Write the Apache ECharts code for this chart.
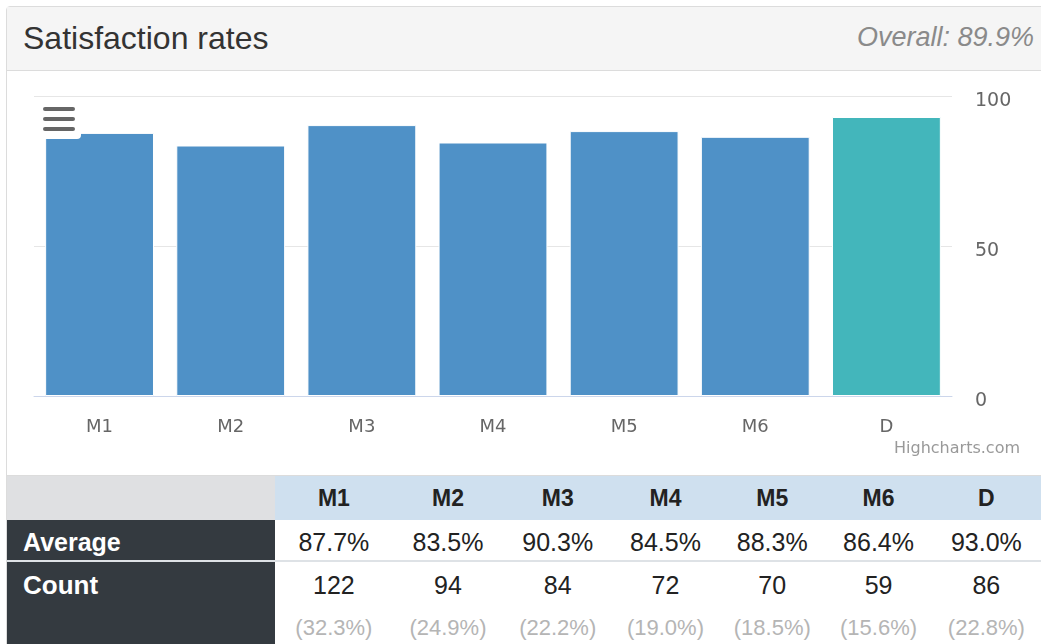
<!DOCTYPE html>
<html>
<head>
<meta charset="utf-8">
<script src="https://cdn.jsdelivr.net/npm/echarts@6/dist/echarts.min.js"></script>
<style>
  html, body { margin: 0; padding: 0; width: 1041px; height: 644px; overflow: hidden; background: #fff; }
  body { position: relative; font-family: "Liberation Sans", Arial, sans-serif; }
  .panel {
    position: absolute; left: 6px; top: 6px; width: 1100px; height: 700px;
    border: 1px solid #dcdcdc; border-radius: 4px; box-sizing: border-box;
  }
  .head {
    position: absolute; left: 0; top: 0; right: 0; height: 63px;
    background: #f5f5f5; border-bottom: 1px solid #dcdcdc;
  }
  .title {
    position: absolute; left: 16px; top: 13px; font-size: 32px; color: #333;
  }
  .overall {
    position: absolute; left: 760px; width: 267px; text-align: right; top: 15px;
    font-size: 27px; font-style: italic; color: #8a8a8a;
  }
  #chart { position: absolute; left: 0; top: 70px; width: 1041px; height: 405px; }
  table {
    position: absolute; left: 7px; top: 475px; border-collapse: collapse; table-layout: fixed;
    border-top: 1px solid #dcdcdc;
  }
  td, th { padding: 0; text-align: center; color: #222; }
  thead th { height: 44px; line-height: 44px; background: #cfe0ef; font-size: 23px; font-weight: bold; }
  thead th.blank { background: #dfe0e2; }
  tbody th {
    background: #343a40; color: #fff; text-align: left; padding-left: 16px;
    font-size: 26px; font-weight: bold; vertical-align: top;
  }
  .nudge { position: relative; top: 2px; }
  tr.avg td, tr.avg th { height: 40px; line-height: 40px; border-bottom: 2px solid #dee2e6; font-size: 25px; }
  tr.cnt td { vertical-align: top; font-size: 25px; line-height: 46px; }
  tr.cnt th { line-height: 46px; height: 82px; }
  .pct { display: block; color: #b5b5b5; font-size: 22px; line-height: 40px; }
</style>
</head>
<body>
<div class="panel">
  <div class="head">
    <div class="title">Satisfaction rates</div>
    <div class="overall">Overall: 89.9%</div>
  </div>
</div>
<div id="chart"></div>
<table id="tbl"></table>
<script>
const categories = ["M1", "M2", "M3", "M4", "M5", "M6", "D"];
const averages = [87.7, 83.5, 90.3, 84.5, 88.3, 86.4, 93.0];
const counts = [122, 94, 84, 72, 70, 59, 86];
const countShares = [32.3, 24.9, 22.2, 19.0, 18.5, 15.6, 22.8];
const yTicks = [0, 50, 100];
const overall = 89.9;

// table under the chart
const colWidths = [272, 118, 112, 109, 108, 107, 107, 110];
let html = "<colgroup>" + colWidths.map(w => '<col style="width:' + w + 'px">').join("") + "</colgroup>";
html += '<thead><tr><th class="blank"></th>' + categories.map(c => "<th>" + c + "</th>").join("") + "</tr></thead>";
html += '<tbody><tr class="avg"><th><span class="nudge">Average</span></th>' +
  averages.map(v => '<td><span class="nudge">' + v.toFixed(1) + "%</span></td>").join("") + "</tr>";
html += '<tr class="cnt"><th>Count</th>' + counts.map((v, i) =>
  "<td>" + v + '<span class="pct">(' + countShares[i].toFixed(1) + "%)</span></td>").join("") + "</tr></tbody>";
document.getElementById("tbl").innerHTML = html;
document.querySelector(".overall").textContent = "Overall: " + overall.toFixed(1) + "%";

const chart = echarts.init(document.getElementById("chart"));
chart.setOption({
  animation: false,
  grid: { left: 34, top: 26, width: 918, height: 300, containLabel: false },
  xAxis: {
    type: "category",
    data: categories,
    axisLine: { lineStyle: { color: "#ccd6eb", width: 1 } },
    axisTick: { show: false },
    axisLabel: { color: "#666", fontSize: 18, fontFamily: "DejaVu Sans", margin: 22 }
  },
  yAxis: {
    type: "value",
    position: "right",
    min: yTicks[0],
    max: yTicks[yTicks.length - 1],
    interval: 50,
    axisLine: { show: false },
    axisTick: { show: false },
    splitLine: { lineStyle: { color: "#e6e6e6", width: 1 } },
    axisLabel: {
      color: "#666", fontSize: 19, fontFamily: "DejaVu Sans", margin: 23, align: "left",
      verticalAlign: "top", lineHeight: 10
    }
  },
  series: [{
    type: "bar",
    barCategoryGap: "17%",
    data: averages.map((v, i) => ({
      value: v,
      itemStyle: { color: categories[i] === "D" ? "#43b6bb" : "#4f91c7" }
    })),
    itemStyle: { borderColor: "#fff", borderWidth: 1 }
  }],
  graphic: [
    { type: "rect", shape: { x: 36, y: 29, width: 45, height: 40, r: 4 }, style: { fill: "#fff" }, z: 100 },
    { type: "line", shape: { x1: 45, y1: 39, x2: 73, y2: 39 }, style: { stroke: "#666", lineWidth: 4, lineCap: "round" }, z: 101 },
    { type: "line", shape: { x1: 45, y1: 49, x2: 73, y2: 49 }, style: { stroke: "#666", lineWidth: 4, lineCap: "round" }, z: 101 },
    { type: "line", shape: { x1: 45, y1: 59, x2: 73, y2: 59 }, style: { stroke: "#666", lineWidth: 4, lineCap: "round" }, z: 101 },
    {
      type: "text", right: 21, top: 371,
      style: { text: "Highcharts.com", fill: "#999", font: "16px 'DejaVu Sans'" }
    }
  ]
});
</script>
</body>
</html>
